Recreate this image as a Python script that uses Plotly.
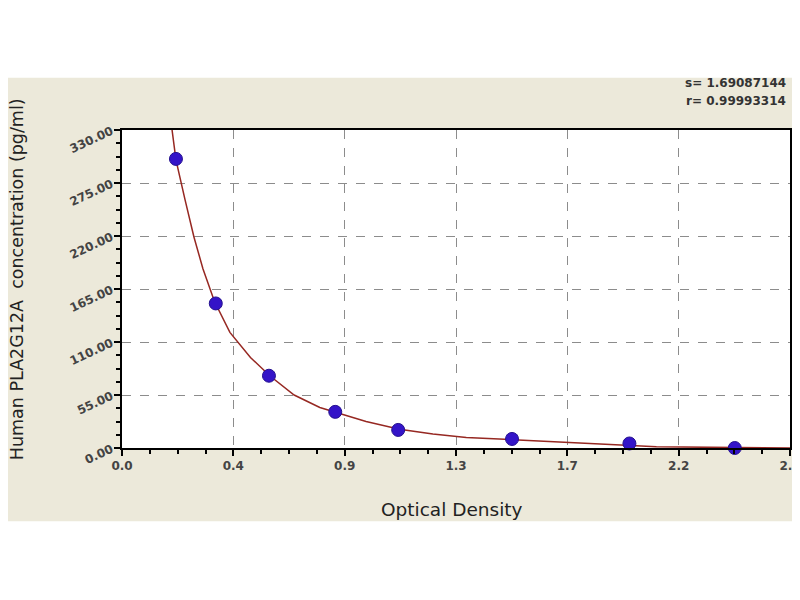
import plotly.graph_objects as go

# standard points (optical density vs concentration)
od_points = [0.21, 0.365, 0.572, 0.830, 1.075, 1.518, 1.975, 2.385]
conc_points = [300.0, 150.0, 75.0, 37.5, 18.75, 9.375, 4.69, 0.0]

# fitted curve
curve_od = [0.19, 0.21, 0.245, 0.28, 0.315, 0.36, 0.42, 0.50, 0.575, 0.67,
            0.77, 0.83, 0.95, 1.08, 1.21, 1.34, 1.52, 1.67, 1.80, 1.95,
            2.08, 2.60]
curve_conc = [340, 299, 258, 219, 186, 152, 120, 94, 75, 55,
              42, 37, 27.5, 19.5, 14.5, 11, 8.5, 6.3, 4.5, 2.8,
              1.2, 0]

x_tickvals = [0, 2.6 / 6, 2 * 2.6 / 6, 3 * 2.6 / 6, 4 * 2.6 / 6, 5 * 2.6 / 6, 2.6]
x_ticktext = ["0.0", "0.4", "0.9", "1.3", "1.7", "2.2", "2.6"]
y_tickvals = [0, 55, 110, 165, 220, 275, 330]
y_ticktext = ["0.00", "55.00", "110.00", "165.00", "220.00", "275.00", "330.00"]

fit_text = ["s= 1.69087144", "r= 0.99993314"]

fig = go.Figure()
fig.add_trace(
    go.Scatter(
        x=curve_od,
        y=curve_conc,
        mode="lines",
        line=dict(color="#962822", width=1.5),
        showlegend=False,
    )
)
fig.add_trace(
    go.Scatter(
        x=od_points,
        y=conc_points,
        mode="markers",
        marker=dict(color="#3414C8", size=13, line=dict(color="#24108F", width=1)),
        cliponaxis=False,
        showlegend=False,
    )
)

tick_font = dict(family="DejaVu Sans", size=12, color="#444444", weight="bold")

fig.update_xaxes(
    range=[0, 2.6],
    automargin=False,
    ticklabeloverflow="allow",
    tickmode="array",
    tickvals=x_tickvals,
    ticktext=x_ticktext,
    tickfont=tick_font,
    ticks="outside",
    ticklen=6,
    tickwidth=1.5,
    tickcolor="black",
    minor=dict(tick0=0, dtick=2.6 / 24, ticks="outside", ticklen=4,
               tickwidth=1.5, tickcolor="black", showgrid=False),
    showgrid=True,
    gridcolor="#8c8c8c",
    griddash="dash",
    gridwidth=1,
    showline=True,
    linecolor="black",
    linewidth=2,
    mirror=True,
    zeroline=False,
)
fig.update_yaxes(
    range=[0, 330],
    automargin=False,
    tickmode="array",
    tickvals=y_tickvals,
    ticktext=y_ticktext,
    tickfont=tick_font,
    tickangle=-25,
    ticks="outside",
    ticklen=6,
    tickwidth=1.5,
    tickcolor="black",
    minor=dict(tick0=0, dtick=13.75, ticks="outside", ticklen=4,
               tickwidth=1.5, tickcolor="black", showgrid=False),
    showgrid=True,
    gridcolor="#8c8c8c",
    griddash="dash",
    gridwidth=1,
    showline=True,
    linecolor="black",
    linewidth=2,
    mirror=True,
    zeroline=False,
)

fig.update_layout(
    width=792,
    height=592,
    margin=dict(l=114, r=10, t=122, b=152),
    paper_bgcolor="white",
    plot_bgcolor="white",
    shapes=[
        # beige window band behind the chart
        dict(type="rect", xref="paper", yref="paper", x0=-0.19, x1=1.02,
             y0=-0.23, y1=1.164, fillcolor="#ECE9DA", line=dict(width=0),
             layer="below"),
        dict(type="rect", xref="paper", yref="paper", x0=0, x1=1, y0=0, y1=1,
             fillcolor="white", line=dict(width=0), layer="below"),
    ],
    annotations=[
        dict(text=fit_text[0], xref="paper", yref="paper", x=0.997, y=1.148,
             xanchor="right", yanchor="middle", showarrow=False,
             font=dict(family="DejaVu Sans", size=12, color="#333333", weight="bold")),
        dict(text=fit_text[1], xref="paper", yref="paper", x=0.997, y=1.092,
             xanchor="right", yanchor="middle", showarrow=False,
             font=dict(family="DejaVu Sans", size=12, color="#333333", weight="bold")),
        dict(text="Human PLA2G12A  concentration (pg/ml)", xref="paper", yref="paper",
             x=-0.156, y=0.53, textangle=-90, xanchor="center", yanchor="middle",
             showarrow=False, font=dict(family="DejaVu Sans", size=17.5, color="#222222")),
        dict(text="Optical Density", xref="paper", yref="paper",
             x=0.494, y=-0.192, xanchor="center", yanchor="middle",
             showarrow=False, font=dict(family="DejaVu Sans", size=18.5, color="#222222")),
    ],
)

fig.write_html("out.html")
